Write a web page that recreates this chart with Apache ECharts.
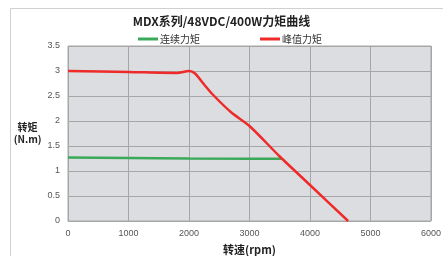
<!DOCTYPE html>
<html>
<head>
<meta charset="utf-8">
<script src="https://cdn.jsdelivr.net/npm/echarts@6/dist/echarts.min.js"></script>
<style>
  html, body { margin: 0; padding: 0; background: #fff; }
  #chart { width: 443px; height: 256px; }
</style>
</head>
<body>
<div id="chart"></div>
<script>
var xTicks = [0, 1000, 2000, 3000, 4000, 5000, 6000];
var yTicks = [0, 0.5, 1, 1.5, 2, 2.5, 3, 3.5];
// 连续力矩 (rpm, N.m)
var contSpeed = [0, 1000, 2000, 3000, 3530];
var contTorque = [1.27, 1.26, 1.25, 1.245, 1.245];
// 峰值力矩 (rpm, N.m)
var peakSpeed = [0, 1000, 1800, 2000, 2100, 2250, 2400, 2700, 3000, 3500, 4000, 4630];
var peakTorque = [3.0, 2.98, 2.96, 3.0, 2.95, 2.73, 2.52, 2.17, 1.9, 1.29, 0.72, 0];

function pairs(xs, ys) {
  var out = [];
  for (var i = 0; i < xs.length; i++) out.push([xs[i], ys[i]]);
  return out;
}

var myChart = echarts.init(document.getElementById("chart"));
myChart.setOption({
  animation: false,
  backgroundColor: "#fff",
  graphic: [
    {
      type: "rect",
      shape: { x: 10.5, y: 8.5, width: 460, height: 280 },
      style: { fill: "none", stroke: "#d0d0d0", lineWidth: 1 },
      silent: true,
    },
  ],
  title: {
    text: "MDX系列/48VDC/400W力矩曲线",
    left: "center",
    top: 10,
    textStyle: {
      fontFamily: "Noto Sans CJK SC",
      fontSize: 12,
      fontWeight: "bold",
      color: "#222",
    },
  },
  legend: {
    top: 29,
    left: 133,
    itemGap: 60,
    itemWidth: 20,
    itemHeight: 3,
    icon: "rect",
    textStyle: { fontFamily: "Noto Sans CJK SC", fontSize: 10, color: "#333", padding: [0, 0, 0, -3] },
    data: ["连续力矩", "峰值力矩"],
  },
  grid: {
    left: 68,
    right: 12,
    top: 46,
    bottom: 35,
    outerBoundsMode: "none",
    show: true,
    backgroundColor: "#dcdde0",
    borderColor: "#a6a6a6",
    borderWidth: 1,
  },
  xAxis: {
    type: "value",
    min: 0,
    max: 6000,
    interval: 1000,
    name: "转速(rpm)",
    nameLocation: "middle",
    nameGap: 23,
    nameTextStyle: { fontFamily: "Noto Sans CJK SC", fontSize: 11, fontWeight: "bold", color: "#222" },
    axisLine: { show: false },
    axisTick: { show: false },
    axisLabel: { fontSize: 9, color: "#555", margin: 8, formatter: function (v) { return String(v); } },
    splitLine: { show: true, lineStyle: { color: "#a6a6a6", width: 1 } },
  },
  yAxis: {
    type: "value",
    min: 0,
    max: 3.5,
    interval: 0.5,
    name: "转矩\n(N.m)",
    nameLocation: "middle",
    nameRotate: 0,
    nameGap: 23,
    nameTextStyle: { fontFamily: "Noto Sans CJK SC", fontSize: 10, fontWeight: "bold", color: "#222", lineHeight: 12, align: "center", padding: [0, 0, 0, 0], width: 34 },
    axisLine: { show: false },
    axisTick: { show: false },
    axisLabel: { fontSize: 9, color: "#555", margin: 8 },
    splitLine: { show: true, lineStyle: { color: "#a6a6a6", width: 1 } },
  },
  series: [
    {
      name: "连续力矩",
      type: "line",
      showSymbol: false,
      data: pairs(contSpeed, contTorque),
      lineStyle: { color: "#3aaa5a", width: 2.5 },
      itemStyle: { color: "#3aaa5a" },
    },
    {
      name: "峰值力矩",
      type: "line",
      showSymbol: false,
      smooth: 0.25,
      data: pairs(peakSpeed, peakTorque),
      lineStyle: { color: "#ee2a2a", width: 2.5 },
      itemStyle: { color: "#ee2a2a" },
    },
  ],
});
</script>
</body>
</html>
